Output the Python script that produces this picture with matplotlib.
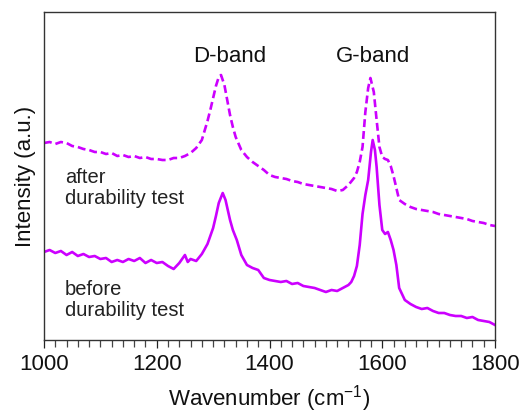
import matplotlib
matplotlib.use('Agg')
import matplotlib.pyplot as plt
from matplotlib.ticker import MultipleLocator

plt.rcParams['font.family'] = ['Liberation Sans', 'DejaVu Sans']
plt.rcParams['mathtext.fontset'] = 'custom'
plt.rcParams['mathtext.rm'] = 'Liberation Sans'
plt.rcParams['mathtext.it'] = 'Liberation Sans'

# Raman spectra (intensity in arbitrary units)
wn_before = [1000, 1010, 1020, 1030, 1040, 1050, 1060, 1070, 1080, 1090,
             1100, 1110, 1120, 1130, 1140, 1150, 1160, 1170, 1180, 1190,
             1200, 1210, 1220, 1230, 1240, 1250, 1255, 1260, 1270, 1280,
             1290, 1300, 1305, 1310, 1317, 1322, 1330, 1335, 1342, 1350,
             1360, 1370, 1380, 1390, 1400, 1410, 1420, 1430, 1440, 1450,
             1460, 1470, 1480, 1490, 1500, 1510, 1520, 1530, 1540, 1545,
             1550, 1555, 1560, 1565, 1570, 1575, 1580, 1583, 1587, 1590,
             1595, 1600, 1605, 1610, 1615, 1620, 1625, 1630, 1640, 1650,
             1660, 1670, 1680, 1690, 1700, 1710, 1720, 1730, 1740, 1750,
             1760, 1770, 1780, 1790, 1800]
int_before = [88, 90, 87, 89, 85, 88, 84, 86, 83, 84,
              81, 82, 78, 80, 78, 81, 79, 82, 77, 80,
              77, 78, 74, 71, 77, 85, 78, 81, 79, 86,
              96, 112, 124, 137, 147, 140, 120, 110, 100, 85,
              75, 72, 70, 62, 60, 59, 58, 59, 56, 57,
              54, 53, 52, 50, 48, 50, 49, 52, 55, 58,
              64, 74, 95, 126, 145, 160, 188, 200, 190, 173,
              135, 110, 106, 108, 100, 90, 75, 52, 40, 36,
              33, 31, 32, 29, 27, 27, 25, 24, 24, 22,
              23, 20, 19, 18, 15]

wn_after = [1000, 1010, 1020, 1030, 1040, 1050, 1060, 1070, 1080, 1090,
            1100, 1110, 1120, 1130, 1140, 1150, 1160, 1170, 1180, 1190,
            1200, 1210, 1220, 1230, 1240, 1250, 1260, 1270, 1280, 1290,
            1295, 1300, 1305, 1310, 1314, 1320, 1325, 1330, 1335, 1340,
            1350, 1360, 1370, 1380, 1390, 1400, 1410, 1420, 1430, 1440,
            1450, 1460, 1470, 1480, 1490, 1500, 1510, 1520, 1530, 1540,
            1550, 1555, 1560, 1565, 1570, 1575, 1579, 1585, 1590, 1595,
            1600, 1605, 1610, 1615, 1620, 1625, 1630, 1640, 1650, 1660,
            1670, 1680, 1690, 1700, 1710, 1720, 1730, 1740, 1750, 1760,
            1770, 1780, 1790, 1800]
int_after = [197, 198, 196, 198, 197, 194, 193, 191, 190, 188,
             188, 186, 187, 184, 185, 183, 184, 182, 183, 181,
             181, 180, 180, 182, 182, 184, 187, 192, 200, 219,
             230, 242, 254, 263, 265, 255, 240, 225, 213, 203,
             190, 183, 178, 174, 170, 165, 163, 162, 161, 159,
             158, 156, 155, 154, 153, 152, 151, 149, 150, 155,
             162, 168, 178, 193, 228, 252, 262, 248, 220, 193,
             183, 181, 180, 174, 164, 152, 140, 136, 133, 131,
             130, 129, 128, 126, 125, 124, 123, 122, 121, 119,
             118, 117, 115, 114]

line_color = '#CC00FF'

fig = plt.figure(figsize=(5.23, 4.2), dpi=100)
ax = fig.add_axes([0.0841, 0.1905, 0.8624, 0.7809])

ax.plot(wn_before, int_before, color=line_color, lw=1.9)
ax.plot(wn_after, int_after, color=line_color, lw=1.9, dashes=(3.0, 1.5))

ax.set_xlim(1000, 1800)
ax.set_ylim(0, 328)
ax.set_yticks([])

ax.xaxis.set_major_locator(MultipleLocator(200))
ax.xaxis.set_minor_locator(MultipleLocator(20))
ax.tick_params(axis='x', which='major', direction='out', length=6, width=0.9,
               labelsize=16, pad=4, colors='#222222', labelcolor='#111111')
ax.tick_params(axis='x', which='minor', direction='out', length=5, width=0.9,
               colors='#444444')

for sp in ax.spines.values():
    sp.set_color('#333333')
    sp.set_linewidth(1.0)

ax.set_xlabel('Wavenumber (cm$^{\\mathregular{-1}}$)', fontsize=16, labelpad=6,
              color='#111111')
ax.set_ylabel('Intensity (a.u.)', fontsize=16, labelpad=6, color='#111111')

# peak labels
ax.text(1330, 278, 'D-band', fontsize=16, ha='center', va='baseline', color='#111111')
ax.text(1583, 278, 'G-band', fontsize=16, ha='center', va='baseline', color='#111111')

ax.text(1037, 172, 'after\ndurability test', fontsize=14.5, ha='left', va='top',
        linespacing=1.15, color='#222222')
ax.text(1037, 60, 'before\ndurability test', fontsize=14.5, ha='left', va='top',
        linespacing=1.15, color='#222222')

fig.savefig('out.png', dpi=100)
